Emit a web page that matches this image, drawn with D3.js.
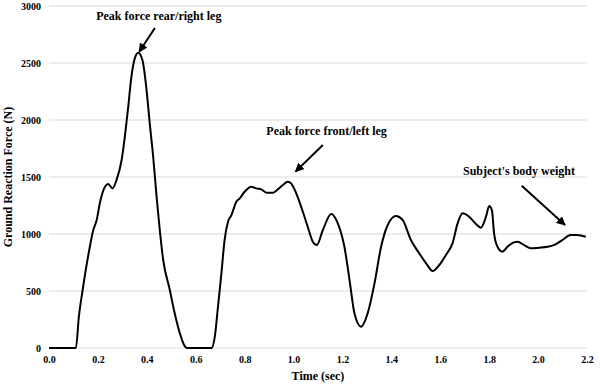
<!DOCTYPE html>
<html>
<head>
<meta charset="utf-8">
<script src="https://cdn.jsdelivr.net/npm/d3@7"></script>
<style>
  body { margin: 0; background: #fff; }
  svg text { font-family: "Liberation Serif", "Times New Roman", Times, "DejaVu Serif", serif; font-weight: bold; fill: #000; }
</style>
</head>
<body>
<svg id="chart" width="600" height="386"></svg>
<script>
    "use strict";

    var FONT = "'Liberation Serif', 'Times New Roman', Times, 'DejaVu Serif', serif";

    // time (sec) / ground reaction force (N)
    var times = [0.00, 0.11, 0.122, 0.137, 0.167, 0.181, 0.195, 0.208, 0.229, 0.242, 0.26, 0.276, 0.297, 0.31,
        0.324, 0.337, 0.351, 0.365, 0.382, 0.399, 0.412, 0.426, 0.44, 0.453, 0.467, 0.494, 0.514, 0.535, 0.555,
        0.565, 0.665, 0.678, 0.691, 0.705, 0.718, 0.732, 0.746, 0.766, 0.78, 0.80, 0.827, 0.848, 0.868, 0.891,
        0.916, 0.936, 0.956, 0.977, 0.99, 1.011, 1.038, 1.058, 1.079, 1.095, 1.12, 1.154, 1.181, 1.208, 1.229,
        1.249, 1.276, 1.303, 1.331, 1.358, 1.385, 1.419, 1.446, 1.48, 1.514, 1.542, 1.569, 1.596, 1.623, 1.65,
        1.671, 1.691, 1.718, 1.746, 1.766, 1.787, 1.80, 1.811, 1.82, 1.834, 1.854, 1.875, 1.898, 1.916, 1.943,
        1.97, 2.004, 2.038, 2.065, 2.099, 2.133, 2.16, 2.195];
    var forces = [0, 0, 272, 500, 888, 1035, 1123, 1272, 1415, 1438, 1400, 1473, 1649, 1853,
        2116, 2380, 2541, 2590, 2526, 2263, 1970, 1678, 1327, 1035, 772, 509, 304, 129, 17,
        0, 0, 99, 362, 655, 947, 1108, 1166, 1283, 1313, 1371, 1415, 1400, 1392, 1362,
        1362, 1392, 1430, 1459, 1444, 1357, 1195, 1064, 932, 903, 1035, 1175, 1093, 888, 596,
        304, 187, 304, 567, 888, 1079, 1158, 1123, 947, 830, 743, 675, 728, 816, 918,
        1093, 1181, 1152, 1088, 1055, 1152, 1245, 1210, 1006, 888, 845, 888, 924, 932, 903,
        874, 880, 888, 903, 947, 991, 991, 976];

    var xTicks = [0, 0.2, 0.4, 0.6, 0.8, 1.0, 1.2, 1.4, 1.6, 1.8, 2.0, 2.2];
    var yTicks = [0, 500, 1000, 1500, 2000, 2500, 3000];

    // annotations: label, label anchor, arrow start, arrow tip (data units)
    var noteLabels = ["Peak force rear/right leg", "Peak force front/left leg", "Subject's body weight"];
    var noteText = [[0.449, 2877], [1.135, 1868], [1.922, 1518]];
    var noteFrom = [[0.433, 2807], [1.12, 1781], [1.933, 1424]];
    var noteTo = [[0.369, 2599], [1.008, 1547], [2.110, 1079]];

    var svg = d3.select("#chart");
    var margin = { top: 6, right: 13, bottom: 38, left: 49 };
    var width = 600 - margin.left - margin.right;
    var height = 386 - margin.top - margin.bottom;

    var x = d3.scaleLinear().domain([0, 2.2]).range([0, width]);
    var y = d3.scaleLinear().domain([0, 3000]).range([height, 0]);

    var g = svg.append("g").attr("transform", "translate(" + margin.left + "," + margin.top + ")");

    // horizontal grid
    g.append("g")
        .selectAll("line")
        .data(yTicks)
        .enter()
        .append("line")
        .attr("x1", 0)
        .attr("x2", width)
        .attr("y1", function (d) { return y(d); })
        .attr("y2", function (d) { return y(d); })
        .attr("stroke", "#d9d9d9")
        .attr("stroke-width", 1);

    var yAxis = g.append("g")
        .call(d3.axisLeft(y).tickValues(yTicks).tickFormat(d3.format("d")).tickSize(0).tickPadding(8));
    yAxis.select(".domain").remove();
    yAxis.attr("font-family", FONT);
    yAxis.selectAll("text").attr("font-family", FONT).style("font-size", "10px");

    var xAxis = g.append("g")
        .attr("transform", "translate(0," + height + ")")
        .call(d3.axisBottom(x).tickValues(xTicks).tickFormat(d3.format(".1f")).tickSize(0).tickPadding(8));
    xAxis.select(".domain").remove();
    xAxis.attr("font-family", FONT);
    xAxis.selectAll("text").attr("font-family", FONT).style("font-size", "10px");

    // axis titles
    svg.append("text")
        .attr("x", margin.left + x(1.1))
        .attr("y", 380)
        .attr("text-anchor", "middle")
        .attr("font-family", FONT)
        .style("font-size", "12px")
        .text("Time (sec)");

    svg.append("text")
        .attr("transform", "translate(12," + (margin.top + height / 2) + ") rotate(-90)")
        .attr("text-anchor", "middle")
        .attr("font-family", FONT)
        .style("font-size", "12px")
        .text("Ground Reaction Force (N)");

    // trace
    var line = d3.line()
        .x(function (d, i) { return x(times[i]); })
        .y(function (d) { return y(d); })
        .curve(d3.curveMonotoneX);

    g.append("path")
        .datum(forces)
        .attr("fill", "none")
        .attr("stroke", "#000")
        .attr("stroke-width", 2)
        .attr("stroke-linejoin", "round")
        .attr("d", line);

    // arrows
    svg.append("defs").append("marker")
        .attr("id", "head")
        .attr("viewBox", "0 0 10 10")
        .attr("refX", 9)
        .attr("refY", 5)
        .attr("markerWidth", 4.5)
        .attr("markerHeight", 4.5)
        .attr("orient", "auto")
        .append("path")
        .attr("d", "M0,0 L10,5 L0,10 Z")
        .attr("fill", "#000");

    noteLabels.forEach(function (label, i) {
        g.append("line")
            .attr("x1", x(noteFrom[i][0]))
            .attr("y1", y(noteFrom[i][1]))
            .attr("x2", x(noteTo[i][0]))
            .attr("y2", y(noteTo[i][1]))
            .attr("stroke", "#000")
            .attr("stroke-width", 2)
            .attr("marker-end", "url(#head)");

        g.append("text")
            .attr("x", x(noteText[i][0]))
            .attr("y", y(noteText[i][1]))
            .attr("text-anchor", "middle")
            .attr("font-family", FONT)
            .style("font-size", "12px")
            .text(label);
    });
</script>
</body>
</html>
